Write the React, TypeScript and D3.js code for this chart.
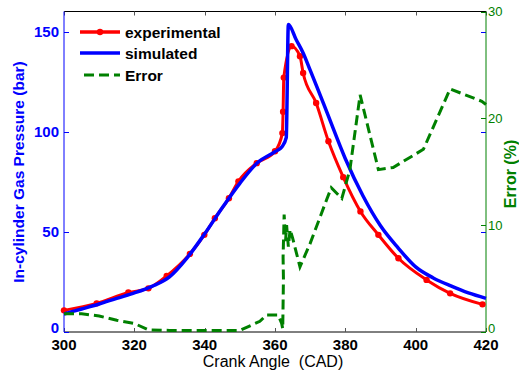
import React, { useEffect, useRef } from "react";
import { select, scaleLinear, line, curveMonotoneX } from "d3";

// simulated pressure (bar) vs crank angle
const simAngle = [300, 305, 310, 315, 320, 325, 330, 335, 340, 345, 350, 355, 360, 362, 363.2, 363.8, 366, 368, 370, 372, 375, 380, 385, 390, 395, 400, 405, 410, 415, 420];
const simPressure = [9, 11.5, 14, 16.8, 19.5, 22.8, 27.5, 37, 49, 62, 74.2, 84.5, 90, 92.5, 97, 153.5, 146, 139.3, 130.7, 122, 108.6, 86.5, 68, 53, 42, 32.5, 27, 23, 19.5, 16.8];

// experimental pressure (bar), one marker per sample
const expAngle = [300, 309.3, 318.3, 324, 329.2, 335.8, 339.9, 342.9, 346.9, 349.6, 354.8, 360, 362.1, 362.3, 362.5, 364.7, 367.1, 368, 371.7, 375.2, 379.4, 384.3, 389.4, 395.1, 403.1, 409.8, 419];
const expPressure = [10.8, 14.3, 19.7, 21.8, 28, 39, 48.5, 56.8, 66.8, 75.2, 84.3, 90.2, 99.3, 110, 127, 142.7, 137.7, 129.3, 114.3, 95.2, 77.3, 60.2, 48.5, 36.8, 26, 19.3, 13.8];

// error (%)
const errAngle = [300, 305, 310, 315, 320, 324, 330, 340, 350, 355.7, 357.6, 360.9, 361.9, 362.2, 362.4, 362.3, 362.6, 363, 363.3, 363.8, 364.3, 365, 367.1, 370, 374.7, 376, 379, 381.3, 384.2, 389.4, 393.6, 402.2, 409.8, 418.8, 420];
const errValue = [1.7, 1.7, 1.5, 1.1, 0.8, 0.2, 0.15, 0.15, 0.15, 1.0, 1.6, 1.6, 0.8, 0.3, 5, 7, 11, 8.5, 10, 8, 9.6, 8.8, 6.1, 8.3, 12.4, 13.5, 12.5, 15.2, 22.2, 15.2, 15.4, 17.1, 22.75, 21.6, 21.3];

const xTicks = [300, 320, 340, 360, 380, 400, 420];
const leftTicks = [0, 50, 100, 150];
const rightTicks = [0, 10, 20, 30];

const FONT = "'Liberation Sans', Arial, sans-serif";

const App = () => {
  const svgRef = useRef<SVGSVGElement>(null);

  useEffect(() => {
    const svg = select(svgRef.current);
    svg.selectAll("*").remove();

    const x = scaleLinear().domain([300, 420]).range([64, 486]);
    const yL = scaleLinear().domain([0, 160]).range([332, 11.5]);
    const yR = scaleLinear().domain([0, 30]).range([332, 11.5]);

    const [x0, x1] = x.range();
    const yBot = 332;
    const yTop = 11.5;

    // frame
    svg.append("line").attr("x1", x0).attr("x2", x1).attr("y1", yTop).attr("y2", yTop).attr("stroke", "#000");
    svg.append("line").attr("x1", x0).attr("x2", x1).attr("y1", yBot).attr("y2", yBot).attr("stroke", "#000");

    // x ticks (bottom & top)
    xTicks.forEach((t) => {
      const px = Math.round(x(t)) + 0.5;
      svg.append("line").attr("x1", px).attr("x2", px).attr("y1", yBot).attr("y2", yBot - 4).attr("stroke", "#555");
      svg.append("line").attr("x1", px).attr("x2", px).attr("y1", yTop).attr("y2", yTop + 4).attr("stroke", "#555");
      svg.append("text")
        .attr("x", x(t)).attr("y", 350)
        .attr("text-anchor", "middle")
        .style("font", `bold 15px ${FONT}`)
        .attr("fill", "#000")
        .text(t);
    });

    // left ticks, mirrored on the right side
    leftTicks.forEach((t) => {
      const py = Math.round(yL(t)) + 0.5;
      svg.append("line").attr("x1", x0).attr("x2", x0 + 5).attr("y1", py).attr("y2", py).attr("stroke", "#0000ff");
      svg.append("line").attr("x1", x1).attr("x2", x1 - 5).attr("y1", py).attr("y2", py).attr("stroke", "#0000ff");
      svg.append("text")
        .attr("x", 59).attr("y", yL(t))
        .attr("dy", t === 0 ? "0.05em" : "0.36em")
        .attr("text-anchor", "end")
        .style("font", `bold 15px ${FONT}`)
        .attr("fill", "#0000ff")
        .text(t);
    });

    // right ticks
    rightTicks.forEach((t) => {
      const py = Math.round(yR(t)) + 0.5;
      svg.append("line").attr("x1", x1).attr("x2", x1 - 5).attr("y1", py).attr("y2", py).attr("stroke", "#008000");
      svg.append("text")
        .attr("x", 488).attr("y", yR(t))
        .attr("dy", t === 0 ? "0.05em" : "0.36em")
        .style("font", `13px ${FONT}`)
        .attr("fill", "#008000")
        .text(t);
    });

    // axis lines
    svg.append("line").attr("x1", x0).attr("x2", x0).attr("y1", yTop).attr("y2", yBot).attr("stroke", "#0000ff");
    svg.append("line").attr("x1", x1).attr("x2", x1).attr("y1", yTop).attr("y2", yBot).attr("stroke", "#008000");

    // axis titles
    svg.append("text")
      .attr("transform", `translate(24,172) rotate(-90)`)
      .attr("text-anchor", "middle")
      .style("font", `bold 15.5px ${FONT}`)
      .attr("fill", "#0000ff")
      .text("In-cylinder Gas Pressure (bar)");
    svg.append("text")
      .attr("transform", `translate(516,174) rotate(-90)`)
      .attr("text-anchor", "middle")
      .style("font", `bold 16px ${FONT}`)
      .attr("fill", "#008000")
      .text("Error (%)");
    svg.append("text")
      .attr("x", 273).attr("y", 367)
      .attr("text-anchor", "middle")
      .style("font", `16px ${FONT}`)
      .attr("fill", "#000")
      .style("white-space", "pre")
      .text("Crank Angle  (CAD)");

    const expData = expAngle.map((a, i) => [a, expPressure[i]]);
    const simData = simAngle.map((a, i) => [a, simPressure[i]]);
    const errData = errAngle.map((a, i) => [a, errValue[i]]);

    const pLine = line<number[]>().x((d) => x(d[0])).y((d) => yL(d[1])).curve(curveMonotoneX);
    const eLine = line<number[]>().x((d) => x(d[0])).y((d) => yR(d[1]));

    svg.append("path")
      .datum(expData)
      .attr("fill", "none")
      .attr("stroke", "#ff0000")
      .attr("stroke-width", 3)
      .attr("stroke-linejoin", "round")
      .attr("d", pLine);
    svg.selectAll(".mk")
      .data(expData)
      .join("circle")
      .attr("class", "mk")
      .attr("cx", (d) => x(d[0]))
      .attr("cy", (d) => yL(d[1]))
      .attr("r", 3.2)
      .attr("fill", "#ff0000");

    svg.append("path")
      .datum(simData)
      .attr("fill", "none")
      .attr("stroke", "#0000ff")
      .attr("stroke-width", 3.5)
      .attr("stroke-linejoin", "round")
      .attr("d", pLine);

    svg.append("path")
      .datum(errData)
      .attr("fill", "none")
      .attr("stroke", "#008000")
      .attr("stroke-width", 3)
      .attr("stroke-dasharray", "10,5")
      .attr("d", eLine);

    // legend
    const legend = [
      { label: "experimental", color: "#ff0000", dash: null, marker: true, y: 32 },
      { label: "simulated", color: "#0000ff", dash: null, marker: false, y: 53 },
      { label: "Error", color: "#008000", dash: "10,5", marker: false, y: 75 },
    ];
    legend.forEach((l) => {
      const ln = svg.append("line")
        .attr("x1", l.dash ? 84 : 80).attr("x2", 120)
        .attr("y1", l.y).attr("y2", l.y)
        .attr("stroke", l.color)
        .attr("stroke-width", 3.5);
      if (l.dash) ln.attr("stroke-dasharray", l.dash).attr("stroke-width", 3);
      if (l.marker) svg.append("circle").attr("cx", 100).attr("cy", l.y).attr("r", 3.2).attr("fill", l.color);
      svg.append("text")
        .attr("x", 125).attr("y", l.y)
        .attr("dy", "0.36em")
        .style("font", `bold 15.5px ${FONT}`)
        .attr("fill", "#000")
        .text(l.label);
    });
  }, []);

  return (
    <svg
      ref={svgRef}
      width={519}
      height={374}
      style={{ position: "absolute", left: 0, top: 0, background: "#fff" }}
    />
  );
};

export default App;
